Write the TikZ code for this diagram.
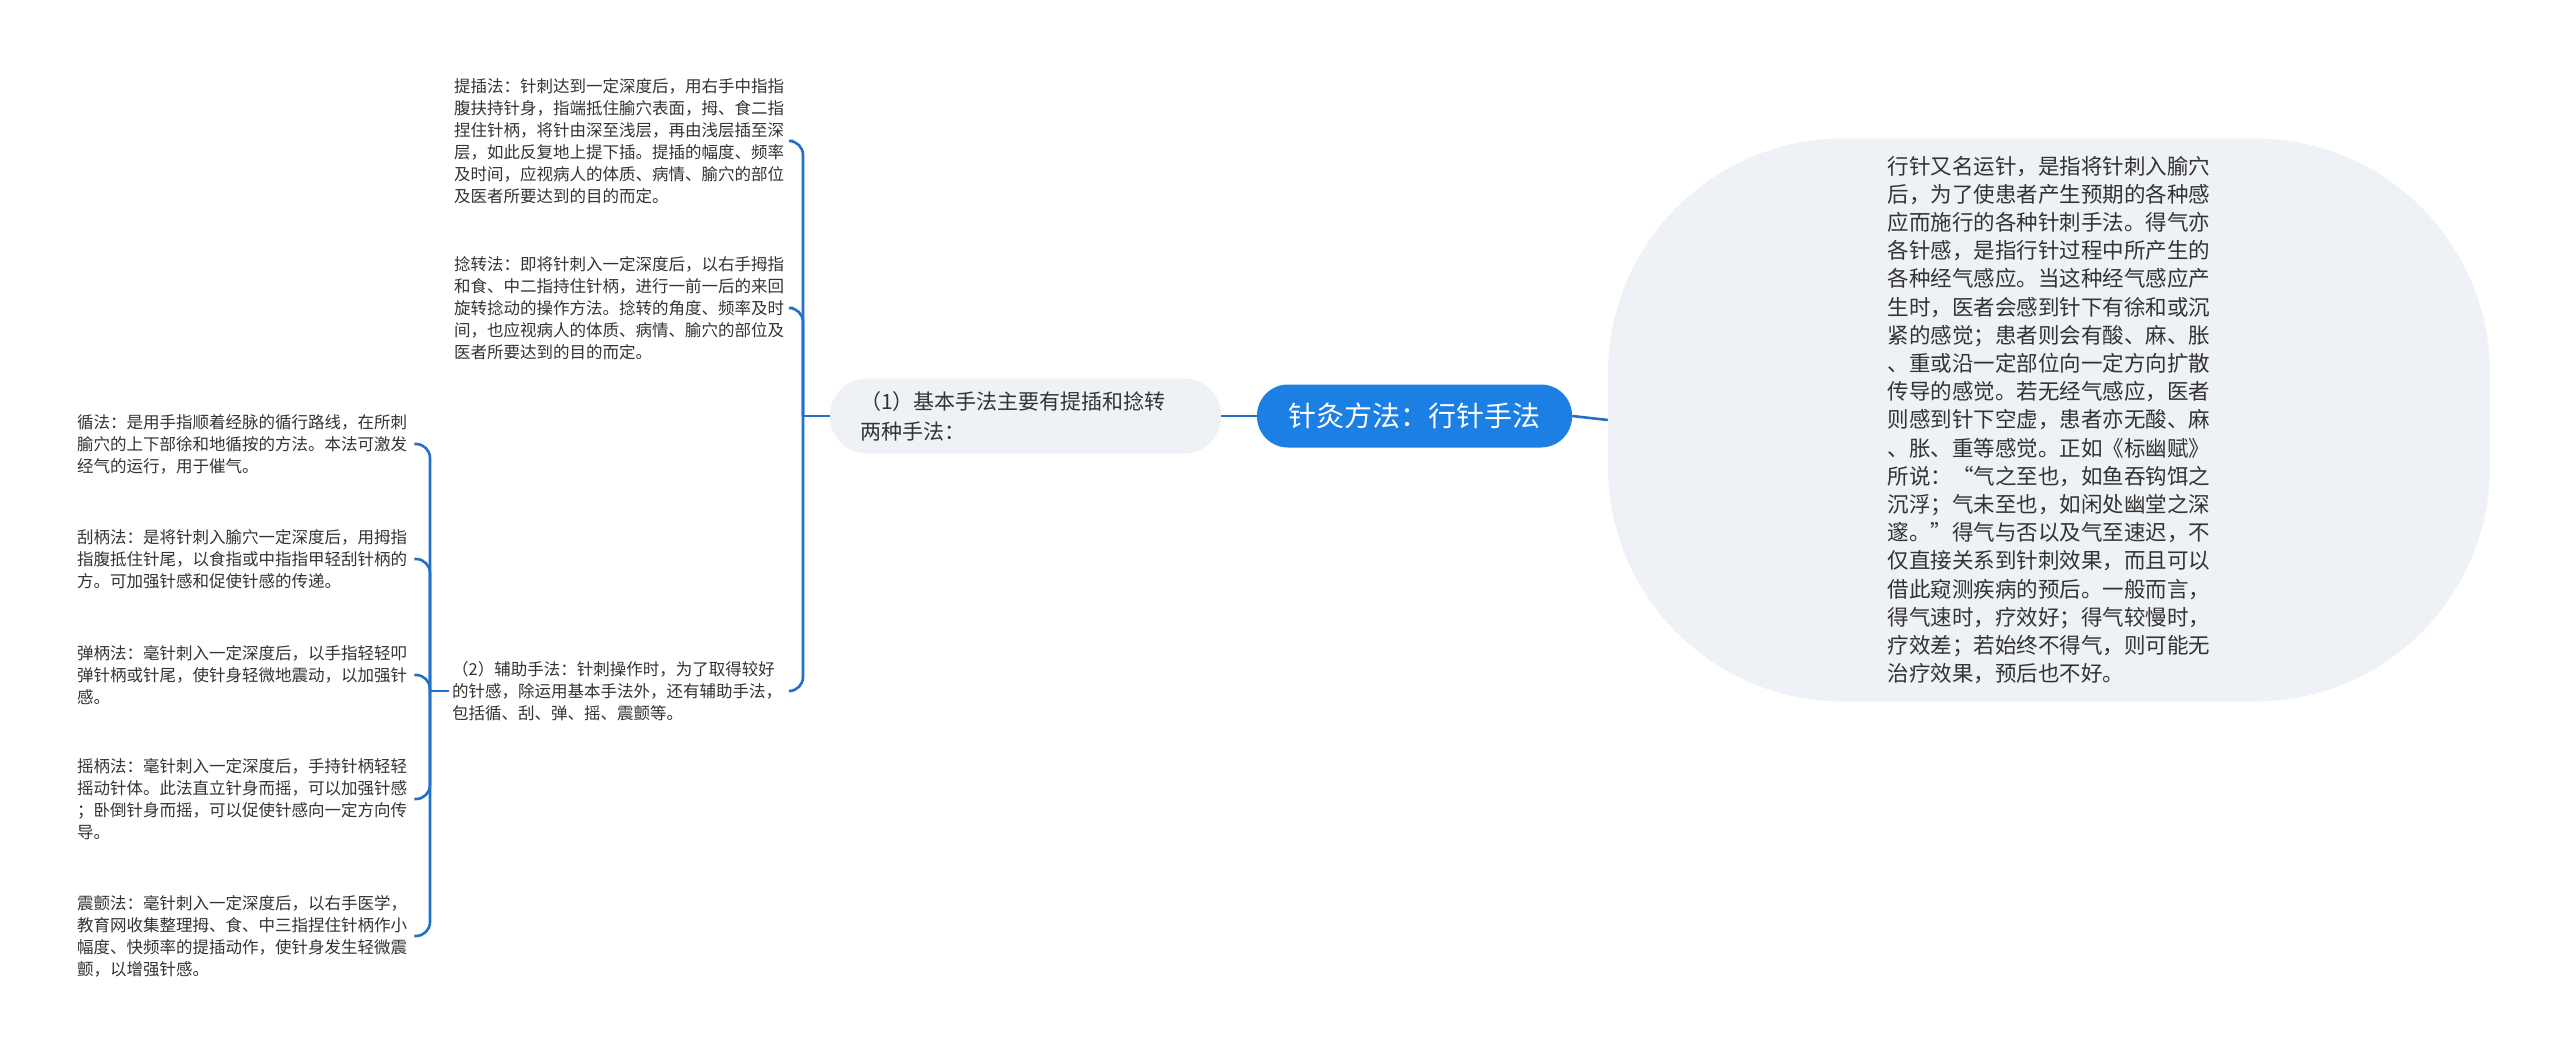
\documentclass[tikz,border=0pt]{standalone}
\usepackage{fontspec}
\setmainfont{Noto Sans CJK SC}
\definecolor{B}{RGB}{28,127,228}
\definecolor{L}{RGB}{35,112,200}
\definecolor{G}{RGB}{238,241,245}
\definecolor{T}{RGB}{51,51,51}

\begin{document}
\begin{tikzpicture}[x=1pt,y=-1pt,
  line/.style={L, line width=2.6pt, rounded corners=14pt},
  txt/.style={text=T, anchor=west, inner sep=0pt, align=left, font=\fontsize{16.5}{22}\selectfont}]
  \useasboundingbox (0,0) rectangle (2560,1057);
  \fill[white] (0,0) rectangle (2560,1057);

  % main topic and its note
  \node[fill=B, rounded corners=31pt, minimum width=315pt, minimum height=63pt, text=white,
        font=\fontsize{28}{30}\selectfont] (root) at (1414.5,416) {针灸方法：行针手法};
  \node[fill=G, rounded corners=235pt, minimum width=882pt, minimum height=563pt, align=left, text=T,
        font=\fontsize{21.5}{28.2}\selectfont] (detail) at (2049,420) {%
    行针又名运针，是指将针刺入腧穴\\
    后，为了使患者产生预期的各种感\\
    应而施行的各种针刺手法。得气亦\\
    各针感，是指行针过程中所产生的\\
    各种经气感应。当这种经气感应产\\
    生时，医者会感到针下有徐和或沉\\
    紧的感觉；患者则会有酸、麻、胀\\
    、重或沿一定部位向一定方向扩散\\
    传导的感觉。若无经气感应，医者\\
    则感到针下空虚，患者亦无酸、麻\\
    、胀、重等感觉。正如《标幽赋》\\
    所说：“气之至也，如鱼吞钩饵之\\
    沉浮；气未至也，如闲处幽堂之深\\
    邃。”得气与否以及气至速迟，不\\
    仅直接关系到针刺效果，而且可以\\
    借此窥测疾病的预后。一般而言，\\
    得气速时，疗效好；得气较慢时，\\
    疗效差；若始终不得气，则可能无\\
    治疗效果，预后也不好。};

  % (1)
  \node[fill=G, rounded corners=37pt, text width=331pt, inner xsep=30pt, minimum height=75pt,
        align=left, text=T, font=\fontsize{21}{30}\selectfont] (basic) at (1025.5,416)
        {（1）基本手法主要有提插和捻转\\两种手法：};

  \node[txt] (tcf) at (454,141) {提插法：针刺达到一定深度后，用右手中指指\\
    腹扶持针身，指端抵住腧穴表面，拇、食二指\\
    捏住针柄，将针由深至浅层，再由浅层插至深\\
    层，如此反复地上提下插。提插的幅度、频率\\
    及时间，应视病人的体质、病情、腧穴的部位\\
    及医者所要达到的目的而定。};
  \node[txt] (nzf) at (454,308) {捻转法：即将针刺入一定深度后，以右手拇指\\
    和食、中二指持住针柄，进行一前一后的来回\\
    旋转捻动的操作方法。捻转的角度、频率及时\\
    间，也应视病人的体质、病情、腧穴的部位及\\
    医者所要达到的目的而定。};
  \node[txt] (aux) at (452,691) {（2）辅助手法：针刺操作时，为了取得较好\\
    的针感，除运用基本手法外，还有辅助手法，\\
    包括循、刮、弹、摇、震颤等。};

  % (2)
  \node[txt] (xun) at (77,444) {循法：是用手指顺着经脉的循行路线，在所刺\\
    腧穴的上下部徐和地循按的方法。本法可激发\\
    经气的运行，用于催气。};
  \node[txt] (gua) at (77,559) {刮柄法：是将针刺入腧穴一定深度后，用拇指\\
    指腹抵住针尾，以食指或中指指甲轻刮针柄的\\
    方。可加强针感和促使针感的传递。};
  \node[txt] (tan) at (77,675) {弹柄法：毫针刺入一定深度后，以手指轻轻叩\\
    弹针柄或针尾，使针身轻微地震动，以加强针\\
    感。};
  \node[txt] (yao) at (77,799) {摇柄法：毫针刺入一定深度后，手持针柄轻轻\\
    摇动针体。此法直立针身而摇，可以加强针感\\
    ；卧倒针身而摇，可以促使针感向一定方向传\\
    导。};
  \node[txt] (zhen) at (77,936) {震颤法：毫针刺入一定深度后，以右手医学，\\
    教育网收集整理拇、食、中三指捏住针柄作小\\
    幅度、快频率的提插动作，使针身发生轻微震\\
    颤，以增强针感。};

  % connectors
  \draw[line] (root.east) -- (detail.west);
  \draw[line] (root.west) -- (basic.east);
  \coordinate (jr) at (803,416);
  \draw[line] (basic.west) -- (jr);
  \draw[line] (jr) |- ([xshift=9pt]tcf.east);
  \draw[line] (jr) |- ([xshift=9pt]nzf.east);
  \draw[line] (jr) |- ([xshift=9pt]aux.east);
  \coordinate (jl) at (430,691);
  \draw[line] ([xshift=-3pt]aux.west) -- (jl);
  \foreach \n in {xun,gua,tan,yao,zhen}
    \draw[line] (jl) |- ([xshift=7pt]\n.east);
\end{tikzpicture}
\end{document}
